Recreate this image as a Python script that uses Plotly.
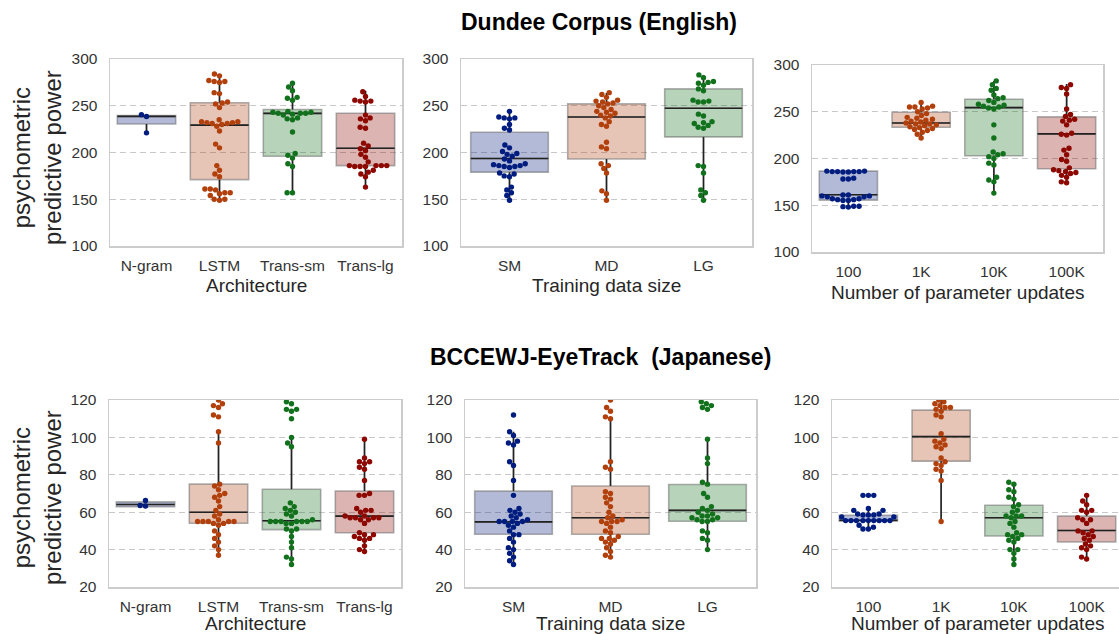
import math
import plotly.graph_objects as go

# ---------------- data ----------------
arch_cats = ["N-gram", "LSTM", "Trans-sm", "Trans-lg"]
size_cats = ["SM", "MD", "LG"]
upd_cats = ["100", "1K", "10K", "100K"]

# Dundee, architecture
dun_arch_pts = [
    [240.5, 238.5, 221],
    [284, 282, 277, 276, 276, 275, 264, 263, 254, 253, 252, 248, 235, 233, 233, 232, 232, 231, 231, 230,
     228, 223, 209, 205, 186, 181, 177, 174, 161, 161, 160, 157, 157, 156, 154, 150, 150, 149],
    [274, 270, 266, 259, 258, 256, 244, 243, 243, 242, 242, 242, 241, 240, 237, 236, 235, 222, 199, 197,
     194, 188, 185, 157, 157],
    [265, 260, 256, 255, 255, 254, 240, 237, 236, 234, 227, 226, 210, 207, 204, 202, 198, 195, 190, 186,
     186, 186, 186, 185, 185, 185, 181, 179, 177, 174, 163],
]
dun_arch_q1 = [230.5, 171, 196, 186]
dun_arch_med = [238.6, 229.3, 241.8, 204.6]
dun_arch_q3 = [239.6, 253.2, 246, 242]
dun_arch_lo = [221, 149.5, 157, 163]
dun_arch_hi = [240.5, 284, 274.6, 266]

# Dundee, training data size
dun_size_pts = [
    [244, 238, 237, 237, 236, 230, 226, 224, 208, 205, 201, 199, 198, 196, 193, 191, 188, 187, 186, 186,
     185, 185, 184, 178, 177, 175, 174, 163, 160, 157, 154, 149],
    [264, 262, 259, 256, 255, 254, 253, 252, 250, 248, 246, 244, 243, 242, 240, 239, 237, 233, 230, 228,
     211, 206, 204, 188, 186, 183, 178, 159, 156, 149],
    [283, 280, 276, 275, 274, 272, 268, 266, 256, 255, 254, 254, 241, 239, 233, 232, 231, 229, 227, 226,
     186, 185, 178, 160, 157, 154, 149],
]
dun_size_q1 = [179, 193, 216.7]
dun_size_med = [193.6, 238, 247.3]
dun_size_q3 = [221.7, 252, 268]
dun_size_lo = [148, 148, 148.5]
dun_size_hi = [243.8, 263.7, 283]

# Dundee, parameter updates
dun_upd_pts = [
    [186.5, 186.5, 186, 186, 186, 186, 185.5, 185.5, 179, 178, 178, 161, 161, 160, 160, 159, 159, 157,
     157, 156, 156, 155, 155, 149, 149, 148.5, 148],
    [260, 256, 255, 255, 254, 253, 250, 248, 246, 244, 243, 242, 241, 240, 239, 238, 237, 237, 236, 235,
     234, 233, 232, 231, 230, 228, 226, 222],
    [283, 279, 275, 273, 268, 265, 264, 262, 260, 258, 257, 256, 255, 254, 253, 236, 222, 207, 205, 204,
     202, 200, 195, 193, 180, 177, 175, 163],
    [279, 276, 275, 269, 253, 247, 245, 242, 241, 240, 236, 227, 226, 225, 211, 209, 204, 199, 197, 190,
     188, 187, 186, 185, 184, 182, 180, 175, 174],
]
dun_upd_q1 = [155.5, 233.5, 203, 189]
dun_upd_med = [161.2, 238, 254.4, 226.3]
dun_upd_q3 = [186.5, 249.5, 263.3, 244.5]
dun_upd_lo = [148, 222.4, 163, 174]
dun_upd_hi = [186.5, 261, 283, 279.7]

# BCCWJ, architecture
bcc_arch_pts = [
    [66.3, 63.6, 63.3],
    [120, 118, 117, 116, 112, 111, 103, 97, 75, 74, 72, 70, 69, 68, 66, 63, 61, 59, 58, 56, 55, 55, 55,
     55, 55, 54, 54, 53, 50, 48, 46, 44, 42, 40, 37],
    [119, 118, 115, 115, 114, 110, 100, 97, 95, 65, 63, 62, 61, 60, 59, 58, 56, 55, 55, 55, 55, 55, 55,
     54, 54, 51, 51, 50, 47, 44, 41, 36, 35, 32],
    [99, 89, 87, 87, 86, 84, 83, 77, 70, 69, 69, 62, 61, 61, 60, 58, 58, 57, 57, 57, 57, 56, 56, 54, 49,
     48, 48, 47, 46, 46, 45, 42, 40, 39],
]
bcc_arch_q1 = [62.9, 54.1, 50.7, 49]
bcc_arch_med = [64.1, 60, 55.4, 57.9]
bcc_arch_q3 = [65.5, 75, 72.3, 71.3]
bcc_arch_lo = [63.3, 37, 31.6, 38.8]
bcc_arch_hi = [66.3, 103, 100.4, 99]

# BCCWJ, training data size
bcc_size_pts = [
    [112, 103, 101, 98, 97, 96, 87, 85, 77, 69, 62, 61, 60, 59, 58, 57, 56, 55, 55, 55, 55, 54, 53, 52,
     50, 48, 48, 46, 44, 41, 40, 38, 36, 34, 32],
    [120, 116, 114, 111, 110, 87, 84, 83, 71, 70, 68, 67, 65, 63, 60, 58, 57, 56, 55, 55, 55, 54, 52, 50,
     49, 47, 46, 46, 45, 44, 43, 41, 39, 37, 36],
    [119, 118, 117, 116, 115, 99, 89, 86, 76, 75, 70, 68, 63, 62, 61, 60, 59, 58, 58, 57, 57, 56, 56, 55,
     55, 50, 49, 46, 45, 40],
]
bcc_size_q1 = [48.2, 48.2, 55.2]
bcc_size_med = [54.8, 57, 61]
bcc_size_q3 = [71.25, 74, 74.8]
bcc_size_lo = [31.6, 36, 40.5]
bcc_size_hi = [103, 110, 99]

# BCCWJ, parameter updates
bcc_upd_pts = [
    [69, 69, 69, 62, 61, 61, 59, 59, 58.5, 58.5, 58.5, 57.5, 57.5, 55.5, 55.5, 55.5, 55.5, 55.5, 55.5,
     55.5, 55.5, 55.5, 53, 52, 51, 51],
    [120, 119, 118, 117, 116, 116, 115, 114, 112, 111, 102, 99, 98, 97, 96, 95, 94, 89, 87, 86, 85, 83,
     82, 77, 55],
    [76, 75, 72, 71, 68, 67, 64, 63, 61, 60, 58, 58, 58, 57, 55, 54, 52, 49, 48, 48, 47, 46, 45, 44, 40,
     40, 38, 35, 32],
    [69, 66, 64, 61, 61, 60, 57, 56, 56, 54, 50, 50, 49, 48, 47, 46, 45, 43, 42, 41, 40, 36, 35],
]
bcc_upd_q1 = [55.2, 87.3, 47.3, 44.1]
bcc_upd_med = [55.7, 100.4, 57, 50.2]
bcc_upd_q3 = [58.4, 114.6, 63.75, 57.9]
bcc_upd_lo = [51, 55, 31.6, 34.3]
bcc_upd_hi = [61, 120, 75.9, 69.8]

# ---------------- style ----------------
W, H = 1119, 634
COLORS = ["#001c7f", "#b1400d", "#12711c", "#8c0800"]
FILLS = ["rgba(0,28,127,0.3)", "rgba(177,64,13,0.3)", "rgba(18,113,28,0.3)", "rgba(140,8,0,0.3)"]
FONT = "Liberation Sans, Arial, sans-serif"
TICK_COLOR = "#333333"

panels = [
    dict(cats=arch_cats, pts=dun_arch_pts, q1=dun_arch_q1, med=dun_arch_med, q3=dun_arch_q3,
         lo=dun_arch_lo, hi=dun_arch_hi, box=(110, 402, 59, 246), yr=(100, 300), yt=[100, 150, 200, 250, 300],
         title="Architecture"),
    dict(cats=size_cats, pts=dun_size_pts, q1=dun_size_q1, med=dun_size_med, q3=dun_size_q3,
         lo=dun_size_lo, hi=dun_size_hi, box=(461, 752, 59, 246), yr=(100, 300), yt=[100, 150, 200, 250, 300],
         title="Training data size"),
    dict(cats=upd_cats, pts=dun_upd_pts, q1=dun_upd_q1, med=dun_upd_med, q3=dun_upd_q3,
         lo=dun_upd_lo, hi=dun_upd_hi, box=(812, 1103, 65, 252), yr=(100, 300), yt=[100, 150, 200, 250, 300],
         title="Number of parameter updates"),
    dict(cats=arch_cats, pts=bcc_arch_pts, q1=bcc_arch_q1, med=bcc_arch_med, q3=bcc_arch_q3,
         lo=bcc_arch_lo, hi=bcc_arch_hi, box=(109, 401, 400, 587), yr=(20, 120), yt=[20, 40, 60, 80, 100, 120],
         title="Architecture"),
    dict(cats=size_cats, pts=bcc_size_pts, q1=bcc_size_q1, med=bcc_size_med, q3=bcc_size_q3,
         lo=bcc_size_lo, hi=bcc_size_hi, box=(465, 756, 400, 587), yr=(20, 120), yt=[20, 40, 60, 80, 100, 120],
         title="Training data size"),
    dict(cats=upd_cats, pts=bcc_upd_pts, q1=bcc_upd_q1, med=bcc_upd_med, q3=bcc_upd_q3,
         lo=bcc_upd_lo, hi=bcc_upd_hi, box=(832, 1123, 400, 587), yr=(20, 120), yt=[20, 40, 60, 80, 100, 120],
         title="Number of parameter updates"),
]

DOT = 5.4  # marker diameter in px


def swarm_offsets(vals, px_per_y, px_per_cat, d):
    order = sorted(range(len(vals)), key=lambda k: vals[k])
    placed = []
    offs = [0.0] * len(vals)
    for k in order:
        y = vals[k] * px_per_y
        neigh = [(px, py) for px, py in placed if abs(py - y) < d]
        cands = [0.0]
        for px, py in neigh:
            dx = math.sqrt(max(d * d - (py - y) ** 2, 0.0))
            cands += [px + dx, px - dx]
        cands.sort(key=lambda c: (abs(c), c))
        chosen = 0.0
        for c in cands:
            if all((c - px) ** 2 + (y - py) ** 2 >= d * d - 1e-6 for px, py in neigh):
                chosen = c
                break
        placed.append((chosen, y))
        offs[k] = chosen / px_per_cat
    return offs


fig = go.Figure()
layout_axes = {}

for p_i, p in enumerate(panels):
    n = len(p["cats"])
    left, right, top, bottom = p["box"]
    xa = "x" if p_i == 0 else f"x{p_i + 1}"
    ya = "y" if p_i == 0 else f"y{p_i + 1}"
    px_per_cat = (right - left) / n
    px_per_y = (bottom - top) / (p["yr"][1] - p["yr"][0])

    xr_right = n - 0.5
    dom_right = right / W
    if right > W:
        xr_right = n - 0.5 - (right - W) / px_per_cat
        dom_right = 1.0

    for i in range(n):
        fig.add_trace(go.Box(
            x=[i], q1=[p["q1"][i]], median=[p["med"][i]], q3=[p["q3"][i]],
            lowerfence=[p["lo"][i]], upperfence=[p["hi"][i]],
            width=0.8, whiskerwidth=0, boxpoints=False,
            fillcolor=FILLS[i], line=dict(color="rgba(110,110,110,0.55)", width=1.6),
            xaxis=xa, yaxis=ya, showlegend=False, hoverinfo="skip"))
    for i in range(n):
        fig.add_trace(go.Scatter(
            x=[i, i, None, i, i], y=[p["q3"][i], p["hi"][i], None, p["q1"][i], p["lo"][i]],
            mode="lines", line=dict(color="#222222", width=1.6),
            xaxis=xa, yaxis=ya, showlegend=False, hoverinfo="skip"))
        fig.add_trace(go.Scatter(
            x=[i - 0.4, i + 0.4], y=[p["med"][i], p["med"][i]],
            mode="lines", line=dict(color="#222222", width=1.6),
            xaxis=xa, yaxis=ya, showlegend=False, hoverinfo="skip"))
    for i in range(n):
        vals = p["pts"][i]
        offs = swarm_offsets(vals, px_per_y, px_per_cat, DOT)
        fig.add_trace(go.Scatter(
            x=[i + o for o in offs], y=vals, mode="markers",
            marker=dict(color=COLORS[i], size=DOT, line=dict(width=0)),
            xaxis=xa, yaxis=ya, showlegend=False, hoverinfo="skip"))

    key = "" if p_i == 0 else str(p_i + 1)
    layout_axes["xaxis" + key] = dict(
        domain=[left / W, dom_right], anchor=ya, range=[-0.5, xr_right], automargin=False,
        tickvals=list(range(n)), ticktext=p["cats"], showgrid=False, zeroline=False,
        showline=True, mirror=True, linecolor="#cccccc", linewidth=1.5,
        ticks="outside", ticklen=5, tickcolor="rgba(0,0,0,0)",
        tickfont=dict(family=FONT, size=15.5, color=TICK_COLOR), fixedrange=True)
    layout_axes["yaxis" + key] = dict(
        domain=[1 - bottom / H, 1 - top / H], anchor=xa, range=list(p["yr"]), automargin=False,
        tickvals=p["yt"], showgrid=True, gridcolor="#c8c8c8", griddash="6px,4px", gridwidth=1,
        zeroline=False, showline=True, mirror=True, linecolor="#cccccc", linewidth=1.5,
        ticks="outside", ticklen=8, tickcolor="rgba(0,0,0,0)",
        tickfont=dict(family=FONT, size=15.5, color=TICK_COLOR), fixedrange=True)

annotations = []
title_y = [285, 285, 292, 623.5, 623.5, 623.5]
for p_i, p in enumerate(panels):
    left, right, top, bottom = p["box"]
    annotations.append(dict(
        text=p["title"], x=(left + right) / 2 / W, y=1 - title_y[p_i] / H, xref="paper", yref="paper",
        showarrow=False, xanchor="center", yanchor="middle",
        font=dict(family=FONT, size=19, color="#262626")))
annotations.append(dict(text="<b>Dundee Corpus (English)</b>", x=599 / W, y=1 - 22 / H, xref="paper",
                        yref="paper", showarrow=False, xanchor="center", yanchor="middle",
                        font=dict(family=FONT, size=23, color="#000000")))
annotations.append(dict(text="<b>BCCEWJ-EyeTrack  (Japanese)</b>", x=600 / W, y=1 - 357 / H, xref="paper",
                        yref="paper", showarrow=False, xanchor="center", yanchor="middle",
                        font=dict(family=FONT, size=23, color="#000000")))
for yc in (157, 497):
    annotations.append(dict(text="psychometric<br>predictive power", x=37 / W, y=1 - yc / H, xref="paper",
                            yref="paper", showarrow=False, xanchor="center", yanchor="middle", textangle=-90,
                            font=dict(family=FONT, size=24, color="#262626")))

fig.update_layout(
    width=W, height=H, margin=dict(l=0, r=0, t=0, b=0, pad=0, autoexpand=False),
    paper_bgcolor="white", plot_bgcolor="white",
    annotations=annotations, showlegend=False, **layout_axes)

fig.write_html(
    "out.html",
    config={"displayModeBar": False, "staticPlot": True},
    post_script="document.body.style.margin='0';document.body.style.padding='0';"
                "document.documentElement.style.overflow='hidden';document.body.style.overflow='hidden';")
